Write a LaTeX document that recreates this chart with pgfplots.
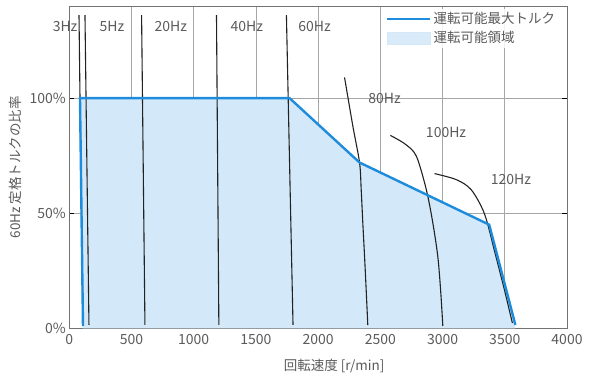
\documentclass[border=0pt]{standalone}
\usepackage{fontspec}
\setmainfont{Noto Sans CJK JP}
\usepackage{pgfplots}
\pgfplotsset{compat=1.18}
\definecolor{bl}{HTML}{1E8CDC}
\definecolor{fl}{HTML}{D3E8F8}
\definecolor{tx}{HTML}{5A5A5A}
\definecolor{cv}{HTML}{222222}
\begin{document}
\begin{tikzpicture}
\begin{axis}[
 scale only axis, width=497.7pt, height=322.3pt,
 xmin=0,xmax=4000,ymin=0,ymax=140,
 xtick={0,500,...,4000}, ytick={0,50,100}, yticklabels={0\%,50\%,100\%},
 grid=major, grid style={color=gray!70, line width=0.6pt},
 axis line style={color=gray!90!black, line width=0.8pt},
 xtick style={draw=none}, ytick style={draw=black, line width=0.8pt}, tick align=inside, major tick length=5pt,
 /pgf/number format/assume math mode=true,
 /pgf/number format/set thousands separator={},
 tick label style={font=\fontsize{14}{16}\selectfont, text=tx},
 xticklabel style={yshift=-3pt},
 xlabel={回転速度 [r/min]}, ylabel={60Hz 定格トルクの比率},
 label style={font=\fontsize{13.5}{15}\selectfont, text=tx},
 xlabel style={at={(axis description cs:0.532,-0.117)}, anchor=center},
 ylabel style={at={(axis description cs:-0.109,0.5)}, anchor=center},
 legend style={at={(axis cs:2520,139)}, anchor=north west, draw=none, fill=white, fill opacity=0.85, text opacity=1, font=\fontsize{13.5}{15}\selectfont, text=tx, row sep=2pt},
 legend cell align=left,
 clip mode=individual,
]
% operating region
\addplot[fill=fl, draw=none, forget plot] coordinates {(110,0) (86,100) (1770,100) (2333,72) (3375,45) (3585,0)} \closedcycle;
% frequency curves
\addplot[cv, line width=1.1pt, forget plot] coordinates {(78,136) (86,100) (98,50) (110,1)};
\addplot[cv, line width=1.1pt, forget plot] coordinates {(126,136) (158,1.5)};
\addplot[cv, line width=1.1pt, forget plot] coordinates {(581,136) (608,1.5)};
\addplot[cv, line width=1.1pt, forget plot] coordinates {(1183,136) (1202,1.5)};
\addplot[cv, line width=1.1pt, forget plot] coordinates {(1745,136) (1798,1.5)};
\addplot[cv, line width=1.1pt, smooth, forget plot] coordinates {(2212,109) (2279,87.8) (2333,71.9) (2346,60.2) (2359,45.7) (2373,31.2) (2386,16.7) (2399,1.4)};
\addplot[cv, line width=1.1pt, smooth, forget plot] coordinates {(2580,83.8) (2700,80) (2789,74.8) (2869,60.3) (2921,46) (2962,31) (2985,16) (3002,1)};
\addplot[cv, line width=1.1pt, smooth, forget plot] coordinates {(2935,67.2) (3109,64.6) (3230,60.2) (3337,49.7) (3420,33) (3497,16.7) (3561,2.3)};
% max torque line
\addplot[bl, line width=2.4pt, forget plot] coordinates {(110,1) (86,100) (1770,100) (2333,72) (3375,45) (3585,1.5)};
\addlegendimage{legend image code/.code={\draw[bl, line width=2.6pt] (0pt,0pt) -- (43pt,0pt);}}
\addlegendentry{運転可能最大トルク}
\addlegendimage{legend image code/.code={\fill[fl] (0pt,-6pt) rectangle (43pt,6pt);}}
\addlegendentry{運転可能領域}
% labels
\node[font=\fontsize{14}{16}\selectfont, text=tx] at (axis cs:-34,131) {3Hz};
\node[font=\fontsize{14}{16}\selectfont, text=tx] at (axis cs:343,131) {5Hz};
\node[font=\fontsize{14}{16}\selectfont, text=tx] at (axis cs:816,131) {20Hz};
\node[font=\fontsize{14}{16}\selectfont, text=tx] at (axis cs:1426,131) {40Hz};
\node[font=\fontsize{14}{16}\selectfont, text=tx] at (axis cs:1971,131) {60Hz};
\node[font=\fontsize{14}{16}\selectfont, text=tx] at (axis cs:2533,100) {80Hz};
\node[font=\fontsize{14}{16}\selectfont, text=tx] at (axis cs:3028,85) {100Hz};
\node[font=\fontsize{14}{16}\selectfont, text=tx] at (axis cs:3550,64.6) {120Hz};
\end{axis}
\path ([shift={(-69.3pt,-49.7pt)}]current axis.south west) rectangle ++(600pt,378pt);
\end{tikzpicture}
\end{document}
